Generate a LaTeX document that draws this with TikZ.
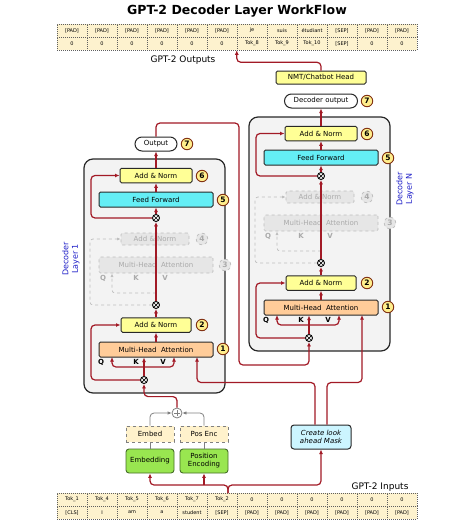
\documentclass[tikz,border=0pt]{standalone}
\usepackage{fontspec}
\setmainfont{DejaVu Sans}
\usetikzlibrary{arrows.meta,calc}
\definecolor{lred}{RGB}{162,26,38}
\definecolor{boxborder}{RGB}{40,40,40}
\definecolor{annfill}{RGB}{255,255,150}
\definecolor{fffill}{RGB}{100,238,245}
\definecolor{mhafill}{RGB}{255,204,153}
\definecolor{layerfill}{RGB}{243,243,243}
\definecolor{fadefill}{RGB}{230,230,230}
\definecolor{fadeline}{RGB}{190,190,190}
\definecolor{fadetext}{RGB}{170,170,170}
\definecolor{numfill}{RGB}{255,238,140}
\definecolor{numborder}{RGB}{130,50,20}
\definecolor{cellfill}{RGB}{253,242,206}
\definecolor{celldraw}{RGB}{95,95,95}
\definecolor{embfill}{RGB}{153,230,80}
\definecolor{embdraw}{RGB}{70,110,40}
\definecolor{tapefill}{RGB}{255,242,204}
\definecolor{maskfill}{RGB}{204,245,255}
\definecolor{lblue}{RGB}{30,30,200}
\tikzset{
  redline/.style={draw=lred, line width=1.2pt, rounded corners=4pt},
  redarrow/.style={redline, -{Latex[length=4.5pt,width=4pt]}},
  grayline/.style={draw=gray, line width=0.8pt, rounded corners=4pt},
  grayarrow/.style={grayline, -{Latex[length=4pt,width=3.5pt,fill=black]}},
  fadearrow/.style={draw=fadeline, dashed, line width=0.7pt, rounded corners=3pt, -{Latex[length=3.5pt,width=3pt]}},
  boxtxt/.style={font=\fontsize{7}{8}\selectfont},
  box/.style={draw=boxborder, line width=1pt, rounded corners=1.5pt, inner sep=0pt, boxtxt},
  annbox/.style={box, fill=annfill, minimum width=72pt, minimum height=14.5pt},
  ffbox/.style={box, fill=fffill, minimum width=114pt, minimum height=15pt},
  mhabox/.style={box, fill=mhafill, minimum width=114pt, minimum height=15pt},
  headbox/.style={box, fill=annfill, minimum width=90pt, minimum height=13pt},
  pill/.style={draw=boxborder, line width=1pt, fill=white, rounded corners=7pt, inner sep=0pt, minimum width=42pt, minimum height=14pt, boxtxt},
  fadebox/.style={draw=fadeline, dashed, line width=0.7pt, fill=fadefill, text=fadetext, rounded corners=1.5pt, inner sep=0pt, boxtxt},
  fadelbl/.style={text=fadetext, font=\bfseries\fontsize{7}{7}\selectfont, inner sep=0pt},
  qkv/.style={text=black, font=\bfseries\fontsize{7}{7}\selectfont, inner sep=0pt},
  numc/.style={circle, draw=numborder, fill=numfill, line width=0.9pt, minimum size=11.5pt, inner sep=0pt, font=\bfseries\fontsize{7.5}{7.5}\selectfont},
  fadenum/.style={circle, draw=fadeline, dashed, line width=0.7pt, fill=fadefill, text=fadetext, minimum size=11.5pt, inner sep=0pt, font=\bfseries\fontsize{7.5}{7.5}\selectfont},
  mult/.style={circle, draw=black, fill=white, line width=0.9pt, minimum size=7pt, inner sep=0pt,
    path picture={\draw[line width=0.7pt] (path picture bounding box.north west) -- (path picture bounding box.south east) (path picture bounding box.north east) -- (path picture bounding box.south west);}},
  plusc/.style={circle, draw=gray, fill=white, line width=0.8pt, minimum size=10pt, inner sep=0pt,
    path picture={\draw[gray, line width=0.8pt] ($(path picture bounding box.center)+(-3pt,0)$) -- ($(path picture bounding box.center)+(3pt,0)$) ($(path picture bounding box.center)+(0,-3pt)$) -- ($(path picture bounding box.center)+(0,3pt)$);}},
  layerbox/.style={draw=boxborder, fill=layerfill, line width=1.2pt, rounded corners=9pt, minimum width=141pt, minimum height=234pt, inner sep=0pt},
  cell/.style={draw=celldraw, dash pattern=on 1pt off 1pt, line width=0.5pt, fill=cellfill, minimum width=30pt, minimum height=13pt, inner sep=0pt, font=\fontsize{5}{5.5}\selectfont},
  embbox/.style={draw=embdraw, fill=embfill, line width=0.9pt, rounded corners=3pt, minimum width=48pt, minimum height=24pt, inner sep=0pt, align=center, boxtxt},
  tapebox/.style={draw=gray, dashed, fill=tapefill, line width=0.7pt, minimum width=48pt, minimum height=16pt, inner sep=0pt, boxtxt},
  maskbox/.style={draw=boxborder, fill=maskfill, line width=1pt, rounded corners=3pt, minimum width=60pt, minimum height=24pt, inner sep=0pt, align=center, font=\itshape\fontsize{7}{8.5}\selectfont},
  layerlbl/.style={rotate=90, text=lblue, align=center, font=\fontsize{8}{9.5}\selectfont},
}
\newcommand{\DecLayer}[3]{%
\begin{scope}[shift={(#2,#3)}]
  \node[layerbox] (#1box) at (154.5,276) {};
  \node[annbox] (#1an6) at (156,175.5) {Add \& Norm};
  \node[ffbox] (#1ff) at (156,199.5) {Feed Forward};
  \node[mult] (#1xa) at (156,218) {};
  \node[fadebox, minimum width=68pt, minimum height=12pt] (#1an4) at (155,239) {Add \& Norm};
  \node[fadebox, minimum width=114pt, minimum height=16pt] (#1mh3) at (156,265) {Multi-Head\ \ Attention};
  \node[fadelbl] (#1fq) at (103,278) {Q};
  \node[fadelbl] (#1fk) at (136,278) {K};
  \node[fadelbl] (#1fv) at (165,278) {V};
  \node[mult] (#1xb) at (156,305) {};
  \node[annbox, minimum width=70pt] (#1an2) at (156,325) {Add \& Norm};
  \node[mhabox] (#1mha) at (156,349.5) {Multi-Head\ \ Attention};
  \node[qkv] (#1q) at (101,362) {Q};
  \node[qkv] (#1k) at (136,362) {K};
  \node[qkv] (#1v) at (163,362) {V};
  \node[mult] (#1xc) at (144,380) {};
  \coordinate (#1qin) at (112,357);
  \coordinate (#1vin) at (174,357);
  \coordinate (#1min) at (197,357);
  \node[numc] (#1n6) at (202,176) {6};
  \node[numc] (#1n5) at (223,200) {5};
  \node[fadenum] (#1n4) at (202,239) {4};
  \node[fadenum] (#1n3) at (225,265) {3};
  \node[numc] (#1n2) at (202,325) {2};
  \node[numc] (#1n1) at (223,349) {1};
  % faded paths
  \draw[fadearrow] (#1xb.west) -| (90,270) |- (#1an4.west);
  \draw[fadearrow] (156,293) -| (112,273.5);
  % main chain
  \draw[redarrow] (#1mha) -- (#1an2);
  \draw[redarrow] (#1an2) -- (#1xb);
  \draw[redarrow] (#1xb) -- (#1xa);
  \draw[redarrow] (#1xa) -- (#1ff);
  \draw[redarrow] (#1ff) -- (#1an6);
  \draw[redarrow] (#1xa.west) -| (91,200) |- (#1an6.west);
  \draw[redarrow] (#1xc) -- (#1xc |- #1mha.south);
  \draw[redarrow] (144,367) -| (#1qin);
  \draw[redarrow] (144,367) -| (#1vin);
  \draw[redarrow] (#1xc.west) -| (91,350) |- (#1an2.west);
\end{scope}}
\begin{document}
\begin{tikzpicture}[x=1pt,y=-1pt]
\fill[white] (0,0) rectangle (474,522);
\useasboundingbox (0,0) rectangle (474,522);

\node[font=\bfseries\fontsize{12.5}{14}\selectfont] (title) at (237,11) {GPT-2 Decoder Layer WorkFlow};

% output table
\foreach \t [count=\i] in {{[PAD]},{[PAD]},{[PAD]},{[PAD]},{[PAD]},{[PAD]},je,suis,étudiant,{[SEP]},{[PAD]},{[PAD]}}
  \node[cell] (ta\i) at ({57+30*(\i-0.5)},30.5) {\t};
\foreach \t [count=\i] in {0,0,0,0,0,0,Tok\_8,Tok\_9,Tok\_10,{[SEP]},0,0}
  \node[cell] (tb\i) at ({57+30*(\i-0.5)},43.5) {\t};
\node[font=\fontsize{9}{10}\selectfont] (outlbl) at (183,60) {GPT-2 Outputs};

% input table
\foreach \t [count=\i] in {Tok\_1,Tok\_4,Tok\_5,Tok\_6,Tok\_7,Tok\_2,0,0,0,0,0,0}
  \node[cell] (ba\i) at ({57+30*(\i-0.5)},499.5) {\t};
\foreach \t [count=\i] in {{[CLS]},I,am,a,student,{[SEP]},{[PAD]},{[PAD]},{[PAD]},{[PAD]},{[PAD]},{[PAD]}}
  \node[cell] (bb\i) at ({57+30*(\i-0.5)},512.5) {\t};
\node[font=\fontsize{9}{10}\selectfont] (inlbl) at (380,487) {GPT-2 Inputs};

% layers
\DecLayer{A}{0}{0}
\DecLayer{N}{165}{-42}
\node[layerlbl] (Albl) at (71,259) {Decoder\\Layer 1};
\node[layerlbl] (Nlbl) at (405,189) {Decoder\\Layer N};

% outputs
\node[pill] (Aout) at (156,144) {Output};
\node[numc] (Anum7) at (187,144) {7};
\draw[redarrow] (Aan6) -- (Aout);
\node[pill, minimum width=73pt] (Nout) at (321,101) {Decoder output};
\node[numc] (Nnum7) at (367,101) {7};
\draw[redarrow] (Nan6) -- (Nout);
\node[headbox] (head) at (321,77.5) {NMT/Chatbot Head};
\draw[redarrow] (head.north) |- ($(tb7.south west)+(0,12)$) -- (tb7.south west);

% layer 1 -> layer N
\draw[redarrow] (Aout.north) |- (239,123) -- (239,365) -| (Nxc.south);

% mask
\node[maskbox] (mask) at (321,437) {Create look\\ahead Mask};
\draw[redarrow] ($(mask.north)+(-6,0)$) -- ++(0,-42) -| (Amin);
\draw[redarrow] ($(mask.north)+(6,0)$) -- ++(0,-42) -| (Nmin);

% embeddings
\node[embbox] (emb) at (150,461) {Embedding};
\node[embbox] (pe) at (204,461) {Position\\Encoding};
\node[tapebox] (embt) at (150,434) {Embed};
\node[tapebox] (pet) at (204,434) {Pos Enc};
\node[plusc] (plus) at (177,413) {};
\draw[grayline] (emb) -- (embt);
\draw[grayline] (pe) -- (pet);
\draw[grayarrow] (embt.north) |- (plus.west);
\draw[grayarrow] (pet.north) |- (plus.east);
\draw[redarrow] (plus.north) -- ++(0,-11) -| (Axc.south);

% input brace
\coordinate (brtip) at (228,493);
\draw[redarrow] (brtip) -- (228,485) -| (emb.south);
\draw[redarrow] (brtip) -- (228,485) -| (mask.south);
\draw[redarrow] (204,485) -- (pe.south);
\end{tikzpicture}
\end{document}
